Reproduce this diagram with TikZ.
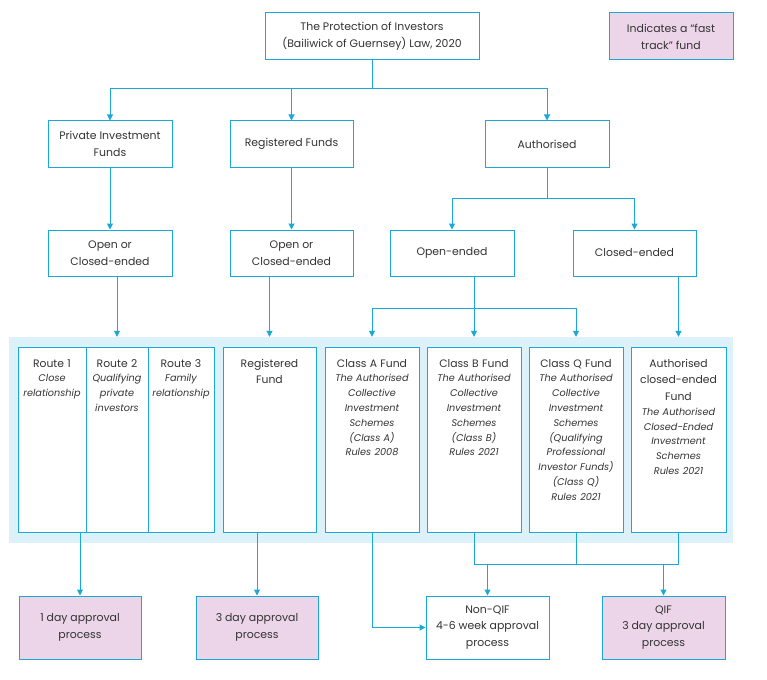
\documentclass[tikz,border=0pt]{standalone}
\usepackage{fontspec}
\setmainfont{Poppins}
\usetikzlibrary{arrows.meta}
\definecolor{lineblue}{HTML}{1AA9D6}
\definecolor{panelblue}{HTML}{DDF1FA}
\definecolor{fastpink}{HTML}{ECD5E9}
\definecolor{txt}{HTML}{333333}
\newcommand\boxtitle{\fontsize{10.8}{16.5}\selectfont\upshape}
\newcommand\boxital{\fontsize{9.7}{14.8}\selectfont\itshape}
\tikzset{
  box/.style={draw=lineblue, line width=1pt, fill=white, inner sep=0pt, align=center,
    text=txt, font=\fontsize{10.9}{16.8}\selectfont},
  fast/.style={box, fill=fastpink},
  tall/.style={draw=lineblue, line width=1pt, fill=white, inner sep=0pt, minimum height=185pt},
  intext/.style={inner sep=0pt, text=txt, align=center, anchor=north, yshift=-12.5pt},
  conn/.style={draw=lineblue, line width=1pt},
  arr/.style={conn, -{Triangle[length=6pt,width=6pt]}},
}
\begin{document}
\begin{tikzpicture}[x=1pt,y=-1pt]
\useasboundingbox (0,0) rectangle (767,679);
% top
\node[box, minimum width=214, minimum height=47] (top) at (372,36.5)
  {The Protection of Investors\\(Bailiwick of Guernsey) Law, 2020};
\node[fast, minimum width=124, minimum height=47] (legend) at (671,36.5)
  {Indicates a “fast\\track” fund};
% row 1
\node[box, minimum width=124, minimum height=46] (priv) at (110,144) {Private Investment\\Funds};
\node[box, minimum width=123, minimum height=46] (regs) at (291.5,144) {Registered Funds};
\node[box, minimum width=124, minimum height=46] (auth) at (547,144) {Authorised};
% row 2
\node[box, minimum width=124, minimum height=46] (oce1) at (110,253) {Open or\\Closed-ended};
\node[box, minimum width=123, minimum height=46] (oce2) at (291.5,253) {Open or\\Closed-ended};
\node[box, minimum width=124, minimum height=46] (oe) at (452,253) {Open-ended};
\node[box, minimum width=123, minimum height=46] (ce) at (634.5,253) {Closed-ended};
% panel
\node[fill=panelblue, inner sep=0pt, minimum width=724, minimum height=206] (panel) at (371,440) {};
\node[tall, minimum width=68] (r1) at (52,439.5) {};
\node[tall, minimum width=62] (r2) at (117,439.5) {};
\node[tall, minimum width=66] (r3) at (181,439.5) {};
\node[tall, minimum width=93] (regf) at (269.5,439.5) {};
\node[tall, minimum width=94] (ca) at (372,439.5) {};
\node[tall, minimum width=94] (cb) at (474,439.5) {};
\node[tall, minimum width=94] (cq) at (576,439.5) {};
\node[tall, minimum width=95] (acf) at (678.5,439.5) {};
\node[intext, text width=68pt] (r1t) at (r1.north) {\boxtitle Route 1\par\boxital Close\\relationship\par};
\node[intext, text width=62pt] (r2t) at (r2.north) {\boxtitle Route 2\par\boxital Qualifying\\private\\investors\par};
\node[intext, text width=66pt] (r3t) at (r3.north) {\boxtitle Route 3\par\boxital Family\\relationship\par};
\node[intext, text width=90pt] (regft) at (regf.north) {\boxtitle Registered\\Fund\par};
\node[intext, text width=92pt] (cat) at (ca.north) {\boxtitle Class A Fund\par
  \boxital The Authorised\\Collective\\Investment\\Schemes\\(Class A)\\Rules 2008\par};
\node[intext, text width=92pt] (cbt) at (cb.north) {\boxtitle Class B Fund\par
  \boxital The Authorised\\Collective\\Investment\\Schemes\\(Class B)\\Rules 2021\par};
\node[intext, text width=92pt] (cqt) at (cq.north) {\boxtitle Class Q Fund\par
  \boxital The Authorised\\Collective\\Investment\\Schemes\\(Qualifying\\Professional\\Investor Funds)\\(Class Q)\\Rules 2021\par};
\node[intext, text width=93pt] (acft) at (acf.north) {\boxtitle Authorised\\closed-ended\\Fund\par
  \boxital The Authorised\\Closed-Ended\\Investment\\Schemes\\Rules 2021\par};
% bottom
\node[fast, minimum width=122, minimum height=63] (day1) at (80,627.5) {1 day approval\\process};
\node[fast, minimum width=122, minimum height=63] (day3) at (257,627.5) {3 day approval\\process};
\node[box, minimum width=123, minimum height=63] (nonqif) at (487.5,627.5) {Non-QIF\\4-6 week approval\\process};
\node[fast, minimum width=123, minimum height=63] (qif) at (663.5,627.5) {QIF\\3 day approval\\process};
% connectors top
\coordinate (j1) at (372,89);
\draw[conn] (top.south) -- (j1);
\draw[arr] (j1) -| (priv.north);
\draw[arr] (j1) -| (regs.north);
\draw[arr] (j1) -| (auth.north);
\draw[arr] (priv) -- (oce1);
\draw[arr] (regs) -- (oce2);
\coordinate (j2) at (547,198);
\draw[conn] (auth.south) -- (j2);
\draw[arr] (j2) -| (oe.north);
\draw[arr] (j2) -| (ce.north);
% into panel
\draw[arr] (oce1.south -| r2.north) -- (r2.north |- panel.north);
\draw[arr] (oce2.south -| regf.north) -- (regf.north |- panel.north);
\coordinate (j3) at (474,308);
\draw[arr] (oe.south -| cb.north) -- (cb.north |- panel.north);
\draw[arr] (j3) -| (ca.north |- panel.north);
\draw[arr] (j3) -| (cq.north |- panel.north);
\draw[arr] (ce.south -| acf.north) -- (acf.north |- panel.north);
% bottom connectors
\draw[arr] (day1.north |- r1.south) -- (day1.north);
\draw[arr] (day3.north |- regf.south) -- (day3.north);
\draw[arr] (ca.south) |- (nonqif.west);
\coordinate (bus) at (0,564);
\draw[conn] (cb.south) -- (cb.south |- bus) -- (acf.south |- bus) -- (acf.south);
\draw[conn] (cq.south) -- (cq.south |- bus);
\draw[arr] (nonqif.north |- bus) -- (nonqif.north);
\draw[arr] (qif.north |- bus) -- (qif.north);
\end{tikzpicture}
\end{document}
